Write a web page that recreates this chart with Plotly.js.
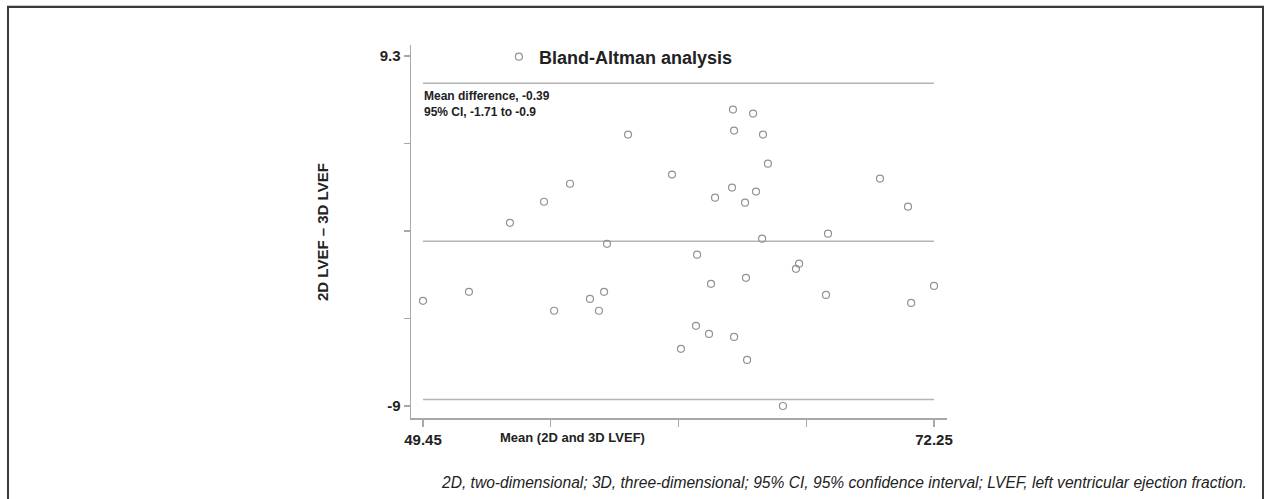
<!DOCTYPE html>
<html>
<head>
<meta charset="utf-8">
<script src="https://cdn.plot.ly/plotly-3.0.1.min.js"></script>
<style>
  html, body { margin: 0; padding: 0; background: #ffffff; }
  #wrap { position: relative; width: 1264px; height: 499px; overflow: hidden; }
  #chart { position: absolute; left: 0; top: 0; width: 1264px; height: 499px; }
  #frame { position: absolute; left: 7px; top: 6px; width: 1253px; height: 520px;
           border-left: 2px solid #3a3a3a; border-top: 2px solid #3a3a3a; border-right: 2px solid #3a3a3a;
           box-shadow: 0 -1px 0 #c8c8c8; pointer-events: none; }
</style>
</head>
<body>
<div id="wrap">
  <div id="chart"></div>
  <div id="frame"></div>
</div>
<script>
// Mean of 2D and 3D LVEF (x) and difference 2D - 3D LVEF (y)
const meanLVEF = [49.45, 51.50, 53.33, 54.85, 55.30, 56.01, 56.90, 57.30, 57.53, 57.66,
                  58.60, 60.56, 60.96, 61.63, 61.68, 62.21, 62.30, 62.48, 63.24, 63.28,
                  63.33, 63.33, 63.82, 63.86, 63.91, 64.18, 64.31, 64.58, 64.62, 64.84,
                  65.51, 66.09, 66.23, 67.43, 67.52, 69.84, 71.09, 71.23, 72.25];
const diffLVEF = [-3.50, -3.03, 0.58, 1.68, -4.02, 2.62, -3.40, -4.02, -3.03, -0.52,
                  5.19, 3.10, -6.01, -4.81, -1.09, -5.23, -2.61, 1.89, 2.42, 6.50,
                  5.40, -5.39, 1.63, -2.30, -6.59, 6.29, 2.21, -0.25, 5.19, 3.67,
                  -9.00, -1.83, -1.56, -3.19, 0.01, 2.89, 1.42, -3.61, -2.72];
// Reference lines: mean difference and limits of agreement
const lineX = [49.45, 72.25];
const meanDiff = -0.39;
const upperLimit = 7.88;
const lowerLimit = -8.66;
// Axis ticks
const xTickVals = [49.45, 55.15, 60.85, 66.55, 72.25];
const xTickText = ['49.45', '', '', '', '72.25'];
const yTickVals = [9.3, 4.725, 0.15, -4.425, -9];
const yTickText = ['9.3', '', '', '', '-9'];

const NARROW = '"Liberation Sans Narrow", "Arial Narrow", "Liberation Sans", Arial, sans-serif';
const LINECOL = '#b4b4b4';

function hline(v) {
  return {
    x: lineX, y: [v, v], type: 'scatter', mode: 'lines',
    line: { color: LINECOL, width: 1.5 }, showlegend: false, hoverinfo: 'skip'
  };
}

const traces = [
  hline(upperLimit), hline(meanDiff), hline(lowerLimit),
  {
    x: meanLVEF, y: diffLVEF, type: 'scatter', mode: 'markers',
    name: '<b>Bland-Altman analysis</b>',
    marker: { symbol: 'circle-open', size: 7, color: '#929292', line: { width: 1.2, color: '#929292' } },
    showlegend: true
  }
];

const layout = {
  width: 1264, height: 499,
  margin: { l: 411, r: 317, t: 45, b: 81, pad: 0 },
  paper_bgcolor: 'rgba(0,0,0,0)', plot_bgcolor: 'rgba(0,0,0,0)',
  font: { family: NARROW, color: '#222' },
  showlegend: true,
  legend: {
    x: 0.164, xanchor: 'left', y: 0.968, yanchor: 'middle',
    font: { family: NARROW, size: 18, color: '#222' },
    bgcolor: 'rgba(0,0,0,0)', borderwidth: 0, itemwidth: 30
  },
  xaxis: {
    range: [48.915, 72.83], showgrid: false, zeroline: false,
    showline: true, linecolor: '#a8a8a8', linewidth: 1.5,
    ticks: 'outside', ticklen: 7, tickwidth: 1.2, tickcolor: '#a8a8a8',
    tickvals: xTickVals, ticktext: xTickText,
    tickfont: { family: '"Liberation Sans", Arial, sans-serif', size: 15, color: '#222', weight: 'bold' }
  },
  yaxis: {
    range: [-9.627, 9.875], showgrid: false, zeroline: false,
    showline: true, linecolor: '#a8a8a8', linewidth: 1.5,
    ticks: 'outside', ticklen: 6, tickwidth: 1.2, tickcolor: '#a8a8a8',
    tickvals: yTickVals, ticktext: yTickText,
    tickfont: { family: '"Liberation Sans", Arial, sans-serif', size: 15, color: '#222', weight: 'bold' }
  },
  annotations: [
    { xref: 'paper', yref: 'paper', x: (422 - 411) / 536, y: (418 - 104) / 373,
      xanchor: 'left', yanchor: 'middle', align: 'left', showarrow: false,
      text: '<b>Mean difference, -0.39</b><br><b>95% CI, -1.71 to -0.9</b>',
      font: { family: NARROW, size: 12, color: '#222' } },
    { xref: 'paper', yref: 'paper', x: (572 - 411) / 536, y: (418 - 437) / 373,
      xanchor: 'center', yanchor: 'middle', showarrow: false,
      text: '<b>Mean (2D and 3D LVEF)</b>',
      font: { family: NARROW, size: 13, color: '#222' } },
    { xref: 'paper', yref: 'paper', x: (322 - 411) / 536, y: (418 - 232) / 373,
      xanchor: 'center', yanchor: 'middle', showarrow: false, textangle: -90,
      text: '<b>2D LVEF – 3D LVEF</b>',
      font: { family: NARROW, size: 15, color: '#222' } },
    { xref: 'paper', yref: 'paper', x: (1249 - 411) / 536, y: (418 - 482) / 373,
      xanchor: 'right', yanchor: 'middle', showarrow: false,
      text: '<i>2D, two-dimensional; 3D, three-dimensional; 95% CI, 95% confidence interval; LVEF, left ventricular ejection fraction.</i>',
      font: { family: NARROW, size: 15.6, color: '#222' } }
  ]
};

Plotly.newPlot('chart', traces, layout, { displayModeBar: false, staticPlot: true });
</script>
</body>
</html>
